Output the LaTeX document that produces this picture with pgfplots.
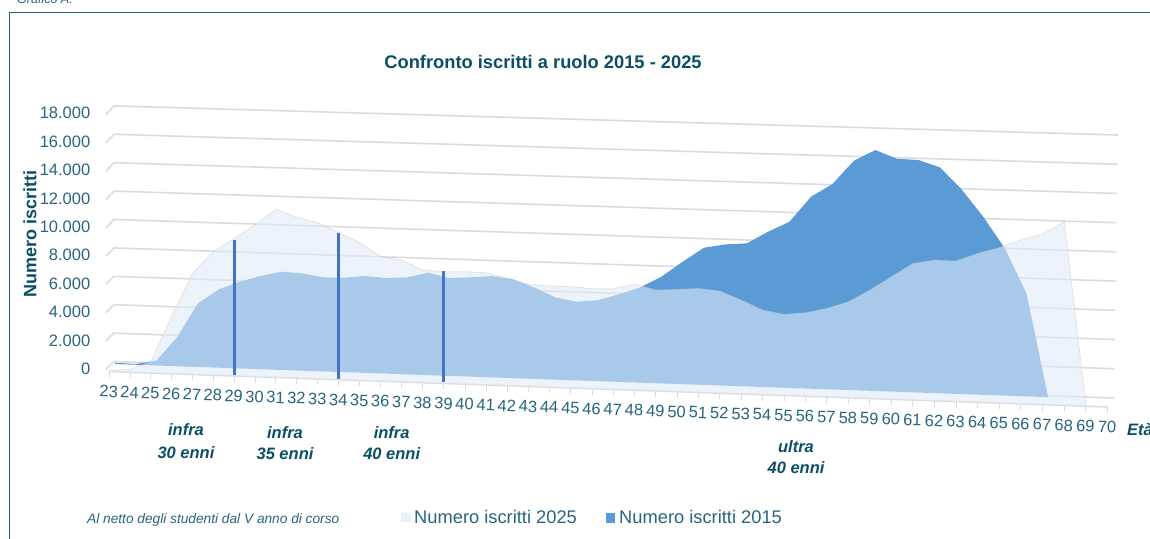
\documentclass[border=0pt]{standalone}
\usepackage{pgfplots}
\pgfplotsset{compat=1.18}
\usepackage{pgfplotstable}
\usepackage{fontspec}
\setmainfont{Liberation Sans}
\definecolor{tickc}{HTML}{28667F}
\definecolor{dark}{HTML}{0B4F67}
\definecolor{framec}{HTML}{1F6580}
\definecolor{gridc}{HTML}{DCDCDC}
\definecolor{sA}{HTML}{5B9BD5}
\definecolor{sB}{HTML}{E0EBF8}
\definecolor{vlinec}{HTML}{4472C4}
\pgfplotstableread{
age v
23 0
23 94
24 52
25 338
26 2033
27 4480
28 5518
29 6109
30 6560
31 6917
32 6853
33 6623
34 6651
35 6823
36 6734
37 6835
38 7215
39 6891
40 6992
41 7137
42 6957
43 6447
44 5795
45 5544
46 5689
47 6166
48 6710
49 7515
50 8625
51 9663
52 9951
53 10076
54 10951
55 11709
56 13521
57 14467
58 16164
59 16969
60 16413
61 16373
62 15910
63 14415
64 12545
65 10369
66 7255
67 0
}\isttwentyfifteen
\pgfplotstableread{
age v
23 0
23 100
24 200
25 796
26 4016
27 7121
28 8698
29 9688
30 10679
31 11857
32 11324
33 11000
34 10348
35 9698
36 8764
37 8583
38 7930
39 7865
40 7919
41 7900
42 7555
43 7210
44 7121
45 7128
46 7039
47 7093
48 7473
49 7104
50 7205
51 7327
52 7194
53 6614
54 5964
55 5713
56 5882
57 6241
58 6764
59 7639
60 8632
61 9625
62 9914
63 9897
64 10491
65 10944
66 11538
67 12014
68 12937
69 0
}\isttwentytwentyfive
\begin{document}
\begin{tikzpicture}[x=1pt,y=-1pt]
\path[use as bounding box] (0,0) rectangle (1150,538);
\fill[white] (0,0) rectangle (1150,538);
% frame
\draw[framec,line width=1.7pt] (9.5,545)--(9.5,12.5)--(1155,12.5);
\node[anchor=base west,inner sep=0pt,font=\itshape\fontsize{12.5}{14}\selectfont,text=tickc] at (17,3) {Grafico A:};
% wall grid
\foreach \k in {0,...,9}{
  \pgfmathsetmacro{\a}{369.3-28.3*\k}
  \pgfmathsetmacro{\b}{361.5-28.4*\k}
  \pgfmathsetmacro{\c}{398-29.22*\k}
  \pgfmathsetmacro{\xa}{1114+0.44*\k}
  \draw[gridc,line width=1.6pt] (106,\a)--(114,\b)--(\xa,\c);
}
\begin{axis}[
  at={(109.3pt,-406.95pt)},anchor=south west,
  x={(20.75pt,-0.7366pt)},y={(0pt,0.0142pt)},
  x coord trafo/.code={\pgfmathparse{#1-23+0.000506*(#1-23)^2}},
  xmin=23,xmax=70,ymin=0,ymax=18000,
  clip=false,
  scaled ticks=false,
  axis lines=left,
  axis line style={-},
  x axis line style={gridc,line width=1.6pt},
  y axis line style={draw=none},
  ytick={0,2000,...,18000},
  yticklabels={0,{2.000},{4.000},{6.000},{8.000},{10.000},{12.000},{14.000},{16.000},{18.000}},
  xtick={23,...,70},
  xticklabels={23,24,25,26,27,28,29,30,31,32,33,34,35,36,37,38,39,40,41,42,43,44,45,46,47,48,49,50,51,52,53,54,55,56,57,58,59,60,61,62,63,64,65,66,67,68,69,70},
  ytick style={draw=none},
  x tick style={gridc,line width=1pt},
  major tick length=6pt,
  tick align=outside,
  yticklabel style={font=\fontsize{16.5}{18}\selectfont,text=tickc,anchor=east,xshift=-9.5pt,yshift=2.5pt},
  xticklabel style={font=\fontsize{16.5}{18}\selectfont,text=tickc,rotate=-2,anchor=center,yshift=-14pt},
]
\addplot[fill=sA,draw=none,xshift=5.5pt,yshift=7.5pt] table[x=age,y=v] {\isttwentyfifteen};
\addplot[fill=sB,fill opacity=0.58,draw=black!25,draw opacity=0.35,line width=0.8pt] table[x=age,y=v] {\isttwentytwentyfive};
\addplot[vlinec,line width=3pt,forget plot] coordinates {(29,80) (29,9580)};
\addplot[vlinec,line width=3pt,forget plot] coordinates {(34,80) (34,10340)};
\addplot[vlinec,line width=3pt,forget plot] coordinates {(39,80) (39,7890)};
\end{axis}
% titles and labels
\node[font=\bfseries\fontsize{18.3}{20}\selectfont,text=dark] at (543,62) {Confronto iscritti a ruolo 2015 - 2025};
\node[rotate=90,inner sep=0pt,font=\bfseries\fontsize{18}{18}\selectfont,text=dark] at (30,234) {Numero iscritti};
\node[anchor=west,font=\bfseries\itshape\fontsize{16.5}{18}\selectfont,text=dark,inner sep=0pt] at (1127,430) {Età};
\tikzset{ann/.style={inner sep=0pt,font=\bfseries\itshape\fontsize{16.5}{18}\selectfont,text=dark}}
\node[ann] at (186,429.5) {infra};
\node[ann] at (186,452.7) {30 enni};
\node[ann] at (285,432.7) {infra};
\node[ann] at (285,453.5) {35 enni};
\node[ann] at (391.7,432.7) {infra};
\node[ann] at (391.7,453.7) {40 enni};
\node[ann] at (796,447) {ultra};
\node[ann] at (796,468) {40 enni};
\node[anchor=west,inner sep=0pt,font=\itshape\fontsize{13.7}{15}\selectfont,text=tickc] at (87,519.5) {Al netto degli studenti dal V anno di corso};
% legend
\fill[sB!70!white] (401,512.5) rectangle (410.5,522);
\node[anchor=west,inner sep=0pt,font=\fontsize{18.3}{20}\selectfont,text=tickc] at (414,517) {Numero iscritti 2025};
\fill[sA] (605.7,513) rectangle (615,522.5);
\node[anchor=west,inner sep=0pt,font=\fontsize{18.3}{20}\selectfont,text=tickc] at (619,517) {Numero iscritti 2015};
\end{tikzpicture}
\end{document}
